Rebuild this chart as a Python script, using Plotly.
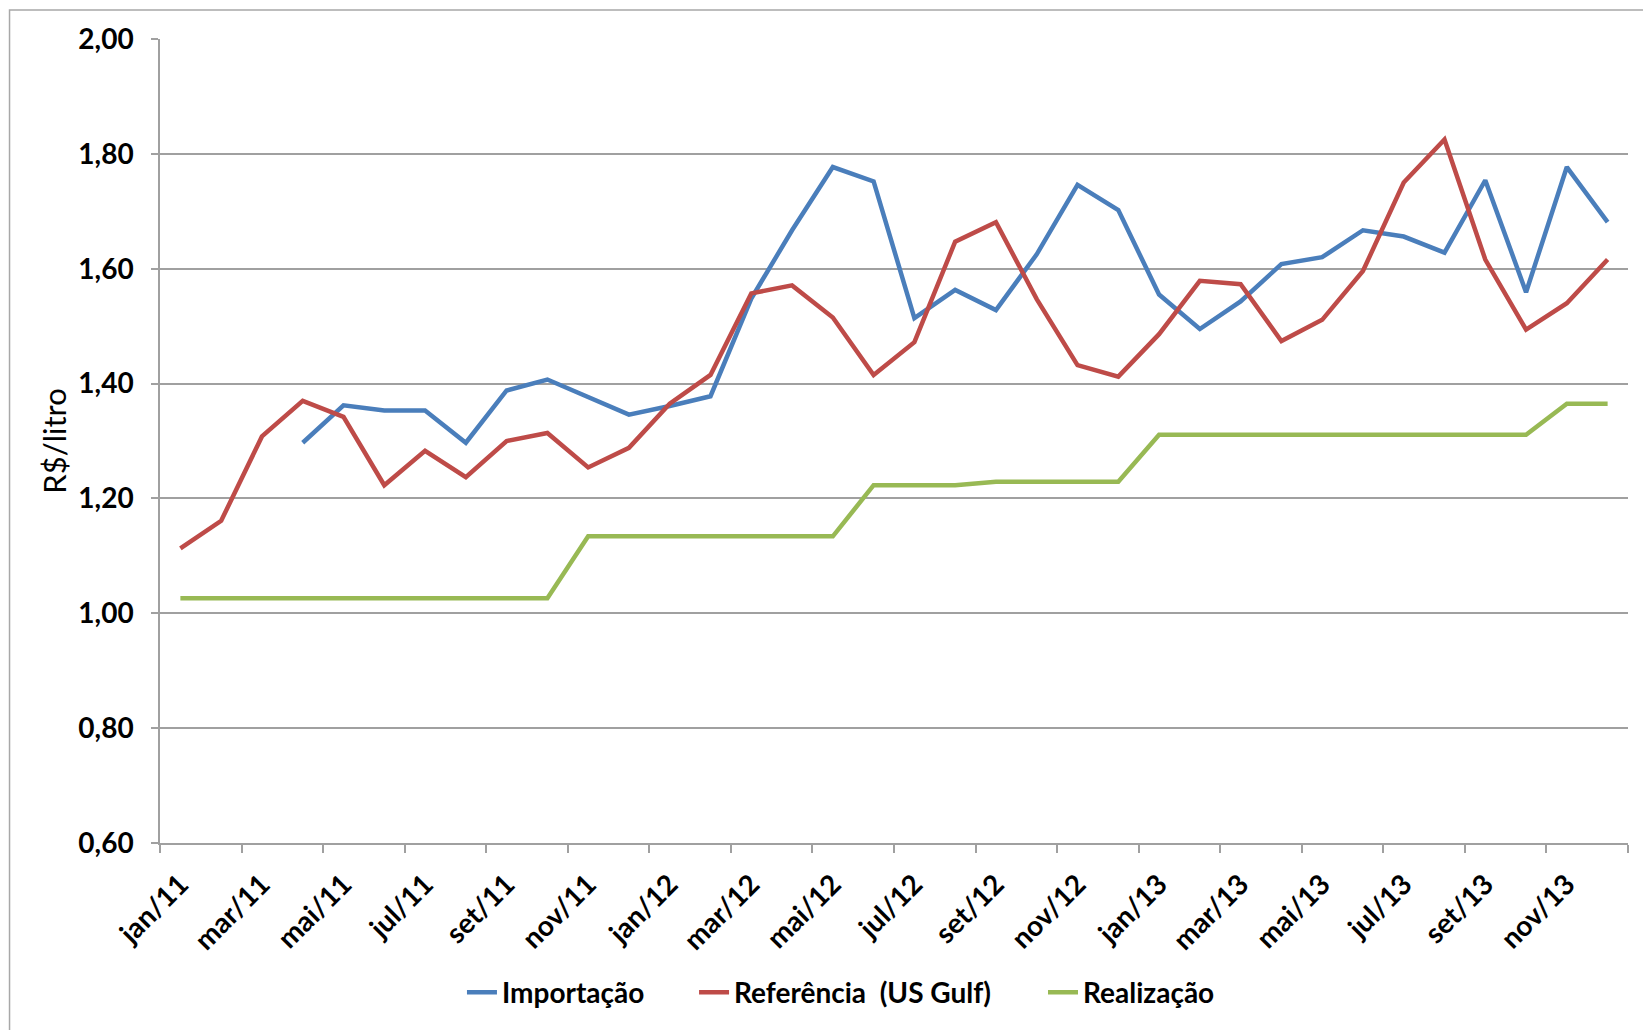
import plotly.graph_objects as go

# Months Jan/2011 .. Dec/2013
month_names = ["jan", "fev", "mar", "abr", "mai", "jun", "jul", "ago", "set", "out", "nov", "dez"]
years = ["11", "12", "13"]
months = [f"{m}/{y}" for y in years for m in month_names]

# R$/litro
importacao = [None, None, None, 1.297, 1.362, 1.353, 1.353, 1.297, 1.388, 1.407, 1.377, 1.346,
              1.361, 1.378, 1.548, 1.667, 1.777, 1.752, 1.514, 1.563, 1.528, 1.625, 1.746, 1.702,
              1.555, 1.495, 1.543, 1.608, 1.620, 1.667, 1.656, 1.628, 1.754, 1.559, 1.777, 1.681]

referencia = [1.113, 1.161, 1.308, 1.370, 1.342, 1.223, 1.283, 1.237, 1.300, 1.314, 1.254, 1.288,
              1.365, 1.415, 1.557, 1.571, 1.515, 1.415, 1.472, 1.647, 1.681, 1.547, 1.432, 1.412,
              1.486, 1.579, 1.573, 1.474, 1.511, 1.596, 1.750, 1.825, 1.616, 1.494, 1.540, 1.616]

realizacao = [1.026, 1.026, 1.026, 1.026, 1.026, 1.026, 1.026, 1.026, 1.026, 1.026, 1.134, 1.134,
              1.134, 1.134, 1.134, 1.134, 1.134, 1.223, 1.223, 1.223, 1.229, 1.229, 1.229, 1.229,
              1.311, 1.311, 1.311, 1.311, 1.311, 1.311, 1.311, 1.311, 1.311, 1.311, 1.365, 1.365]

series = [
    ("Importação", importacao, "#4A7EBB", "legend", 0.2057),
    ("Referência  (US Gulf)", referencia, "#BE4B48", "legend2", 0.3638),
    ("Realização", realizacao, "#98B954", "legend3", 0.6015),
]

FONT = "Lato"
GRID = "#A0A0A0"

fig = go.Figure()
legend_layout = {}
for name, vals, color, leg, lx in series:
    fig.add_trace(go.Scatter(
        x=months, y=vals, name=name, mode="lines", legend=leg,
        line=dict(color=color, width=4.5), connectgaps=False,
    ))
    legend_layout[leg] = dict(
        orientation="h", x=lx, xanchor="left", y=-0.186, yanchor="middle",
        font=dict(family=FONT, size=28, color="black", weight="bold"),
        itemwidth=30, bgcolor="rgba(0,0,0,0)",
    )

fig.update_layout(
    width=1643, height=1030,
    margin=dict(l=160, r=15, t=39, b=185),
    paper_bgcolor="white", plot_bgcolor="white",
    separators=", ",
    font=dict(family=FONT, color="black"),
    showlegend=True,
    **legend_layout,
)

fig.update_xaxes(
    type="category", range=[-0.5, 35.5],
    tickmode="linear", tick0=0, dtick=2,
    tickson="boundaries", ticks="outside", ticklen=8, tickwidth=1.5, tickcolor=GRID,
    tickangle=-45, ticklabelstandoff=12,
    tickfont=dict(family=FONT, size=28, color="black", weight="bold"),
    showline=True, linecolor=GRID, linewidth=1.5,
    showgrid=False, zeroline=False,
)

fig.update_yaxes(
    range=[0.6, 2.0], tickmode="linear", tick0=0.6, dtick=0.2, tickformat=".2f",
    ticks="outside", ticklen=7, tickwidth=1.5, tickcolor=GRID,
    ticklabelstandoff=12,
    tickfont=dict(family=FONT, size=28, color="black", weight="bold"),
    showline=True, linecolor=GRID, linewidth=1.5,
    showgrid=True, gridcolor=GRID, gridwidth=1.5, zeroline=False,
    title=dict(text="R$/litro", font=dict(family=FONT, size=31, color="black"), standoff=3),
)

# chart-area border
fig.add_shape(type="rect", xref="paper", yref="paper",
              x0=-0.1025, x1=1.05, y0=-0.3, y1=1.036,
              line=dict(color="#A8A8A8", width=1.5), fillcolor="rgba(0,0,0,0)", layer="below")

fig.write_html("out.html")
